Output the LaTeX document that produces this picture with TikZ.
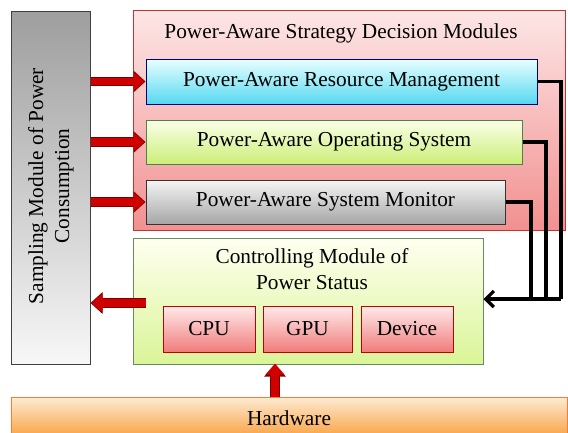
\documentclass[tikz,border=0pt]{standalone}
\usepackage{fontspec}
\setmainfont{Liberation Serif}
\usetikzlibrary{arrows.meta,shadings}
\definecolor{arrowred}{HTML}{D00000}
\definecolor{arrowdark}{HTML}{7A0000}
\definecolor{cyantop}{HTML}{E8FFFF}
\definecolor{cyanbot}{HTML}{55D8F0}
\definecolor{limetop}{HTML}{FAFFE8}
\definecolor{limebot}{HTML}{CCEE78}
\definecolor{ctrltop}{HTML}{FFFFF0}
\definecolor{ctrlbot}{HTML}{DAF598}
\definecolor{pinktop}{HTML}{FDE6E6}
\definecolor{pinkbot}{HTML}{F29090}
\definecolor{chiptop}{HTML}{FFEAEA}
\definecolor{chipbot}{HTML}{F07C7C}
\definecolor{hwtop}{HTML}{FDEBD2}
\definecolor{hwbot}{HTML}{F9A64A}
\tikzset{
  txt/.style={font=\fontsize{21.3}{26}\selectfont},
  box/.style={rectangle, draw, line width=1pt, inner sep=0pt, align=center, txt},
  blockarrow/.style={line width=7.5pt, draw=arrowred,
    -{Triangle[length=11pt,width=18pt]}},
  blockarrowedge/.style={line width=9.5pt, draw=arrowdark,
    -{Triangle[length=12pt,width=21pt]}},
  feedline/.style={line width=3.2pt, black},
}
\begin{document}
\begin{tikzpicture}[x=1pt,y=-1pt]
\useasboundingbox (0,0) rectangle (568,432);

% sampling column
\node[box, draw=black!75, top color=black!38, bottom color=black!3,
  minimum width=79pt, minimum height=353pt] (samp) at (50.5,187.5) {};
\node[rotate=90, align=center, txt] (samptxt) at (51,186)
  {Sampling Module of Power\\Consumption};

% strategy container
\node[box, draw=red!70!black!80, top color=pinktop, bottom color=pinkbot,
  minimum width=432pt, minimum height=220pt] (strat) at (349,120) {};
\node[txt] (strattxt) at (341,33) {Power-Aware Strategy Decision Modules};

\node[box, draw=blue!50!black, top color=cyantop, bottom color=cyanbot,
  minimum width=391pt, minimum height=45pt] (res) at (341.5,81.5) {Power-Aware Resource Management};
\node[box, draw=green!30!black!70, top color=limetop, bottom color=limebot,
  minimum width=376pt, minimum height=44pt] (os) at (334,142) {Power-Aware Operating System};
\node[box, draw=black!80, top color=black!4, bottom color=black!35,
  minimum width=359pt, minimum height=44pt] (mon) at (325.5,202) {Power-Aware System Monitor};

% controlling module
\node[box, draw=green!25!black!60, top color=ctrltop, bottom color=ctrlbot,
  minimum width=350pt, minimum height=126pt] (ctrl) at (308,301) {};
\node[align=center, txt] (ctrltxt) at (312,269)
  {Controlling Module of\\Power Status};
\node[box, draw=red!75!black, top color=chiptop, bottom color=chipbot,
  minimum width=92pt, minimum height=46pt] (cpu) at (209,329) {CPU};
\node[box, draw=red!75!black, top color=chiptop, bottom color=chipbot,
  minimum width=89pt, minimum height=46pt] (gpu) at (307.5,329) {GPU};
\node[box, draw=red!75!black, top color=chiptop, bottom color=chipbot,
  minimum width=92pt, minimum height=46pt] (dev) at (407,329) {Device};

% hardware
\node[box, draw=orange!70!red!80, top color=hwtop, bottom color=hwbot,
  minimum width=556pt, minimum height=38pt] (hw) at (289,416) {};
\node[txt] (hwtxt) at (289,418) {Hardware};

% sampling -> strategy modules
\foreach \t in {res,os,mon}{
  \draw[blockarrowedge] (samp.east |- \t.west) -- (\t.west);
  \draw[blockarrow] (samp.east |- \t.west) -- ([xshift=-1pt]\t.west);
}
% controlling -> sampling
\coordinate (ctrlout) at ([xshift=13pt]ctrl.west |- 0,303);
\draw[blockarrowedge] (ctrlout) -- (samp.east |- ctrlout);
\draw[blockarrow] (ctrlout) -- ([xshift=1pt]samp.east |- ctrlout);
% hardware -> controlling
\draw[blockarrowedge] (hw.north -| 275,0) -- (ctrl.south -| 275,0);
\draw[blockarrow] (hw.north -| 275,0) -- ([yshift=1pt]ctrl.south -| 275,0);

% feedback lines into controlling module
\coordinate (j1) at (561,299);
\coordinate (j2) at (546,299);
\coordinate (j3) at (531,299);
\draw[feedline] (res.east) -| (j1);
\draw[feedline] (os.east) -| (j2);
\draw[feedline] (mon.east) -| (j3);
\draw[feedline, -{Straight Barb[length=8pt,width=16pt]}] (j1) -- (ctrl.east |- j1);
\end{tikzpicture}
\end{document}
